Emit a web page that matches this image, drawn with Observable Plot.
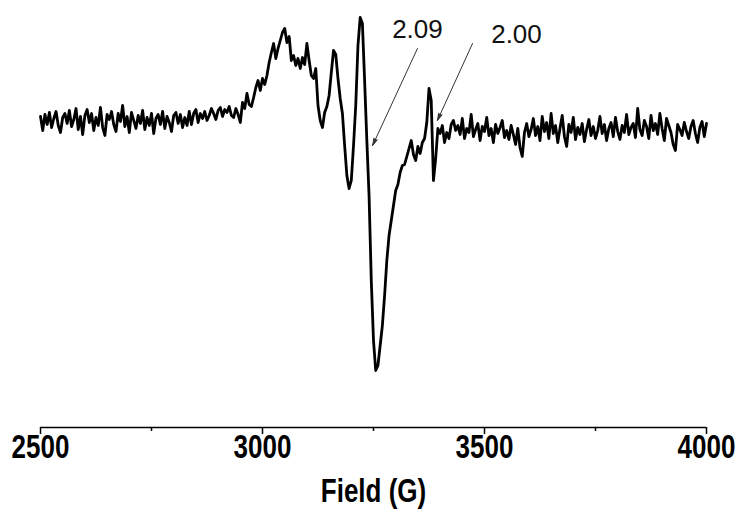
<!DOCTYPE html>
<html>
<head>
<meta charset="utf-8">
<script src="https://cdn.jsdelivr.net/npm/d3@7"></script>
<script src="https://cdn.jsdelivr.net/npm/@observablehq/plot@0.6"></script>
<style>
  html, body { margin: 0; padding: 0; background: #fff; }
  #chart { width: 739px; height: 517px; }
</style>
</head>
<body>
<div id="chart"></div>
<script>
// EPR spectrum, sampled every 5 G, in three segments (arbitrary intensity units)
const fieldStep = 5;

const leftStart = 2500;   // 2500 .. 2855 G
const leftSignal = [
  4, -10, 6, -4, 8, -7, 2, 9, -5, -12,
  3, 7, -3, 10, -6, 1, 12, -9, 4, -14,
  5, 11, -2, 7, -10, 3, -5, 13, -7, -15,
  6, 1, 9, -4, -11, 7, -1, 15, -6, 4,
  -12, 8, 0, -8, 5, -3, 10, -9, 3, -5,
  7, -13, 2, 6, -4, 9, -8, 4, -2, -11,
  5, 8, -3, 6, -7, 3, -5, 9, -4, 7,
  11, -2
];

const midStart = 2860;    // 2860 .. 3435 G
const midSignal = [
  7, 2, 9, 0, 5, 12, 7, 1, 10, 13,
  4, 11, 8, 14, 5, 3, 12, 6, -2, 18,
  12, 27, 16, 14, 23, 33, 40, 30, 42, 36,
  45, 58, 68, 77, 62, 72, 80, 88, 92, 78,
  84, 60, 65, 55, 62, 52, 63, 56, 77, 60,
  45, 42, 52, 15, 0, -7, 8, 14, 25, 48,
  70, 66, 42, 22, 7, -25, -55, -68, -60, -25,
  15, 75, 103, 97, 40, -20, -75, -160, -220, -250,
  -245, -225, -205, -175, -140, -115, -100, -85, -70, -64,
  -52, -45, -44, -36, -28, -20, -34, -40, -26, -33,
  -22, -18, -2, 32, 20, -60, -38, -8, -13, -5,
  -22, -12, -18, -4, 0, -10
];

const rightStart = 3440;  // 3440 .. 4000 G
const rightSignal = [
  -5, -14, 2, -18, -8, -12, 6, -16, -9, -3,
  -20, -6, -11, 3, -15, -8, -22, -4, -13, -7,
  0, -17, -10, -19, -5, -14, -24, -8, -27, -36,
  -12, -3, -16, -9, 2, -15, -6, -20, 4, -11,
  -2, -18, 7, -13, -5, -22, -8, 5, -16, -26,
  -4, -12, 3, -19, -7, -14, -3, -21, -9, 1,
  -15, -6, -18, -10, 4, -13, -4, -20, -8, -2,
  -16, 3, -11, -19, -5, -12, 6, -14, -7, -3,
  -17, 12, -9, -15, 0, -6, -18, 5, -10, -3,
  -14, 7, -8, -20, 2, -5, -12, -24, -30, -4,
  -9, -15, -2, -11, -18, -6, 0, -13, -22, -7,
  -1, -16, -3
];

const xTicks = [2500, 3000, 3500, 4000];
const xMinorTicks = [2750, 3250, 3750];
const xLabel = "Field (G)";

const annotationText = ["2.09", "2.00"];
const annotationField = [3349, 3572];
const annotationLevel = [83, 78];
const arrowFrom = [[3349, 72], [3473, 77]];
const arrowTo = [[3248, -25], [3394, 0]];

// build table
const spectrum = [];
leftSignal.forEach((v, i) => spectrum.push({field: leftStart + i * fieldStep, intensity: v}));
midSignal.forEach((v, i) => spectrum.push({field: midStart + i * fieldStep, intensity: v}));
rightSignal.forEach((v, i) => spectrum.push({field: rightStart + i * fieldStep, intensity: v}));

const labels = annotationText.map((t, i) => ({text: t, field: annotationField[i], level: annotationLevel[i]}));
const arrows = arrowFrom.map((a, i) => ({x1: a[0], y1: a[1], x2: arrowTo[i][0], y2: arrowTo[i][1]}));

const yMin = -307, yMax = 120;

const chart = Plot.plot({
  width: 739,
  height: 517,
  marginLeft: 40,
  marginRight: 33,
  marginTop: 0,
  marginBottom: 90,
  style: {fontFamily: "'Liberation Sans', Arial, sans-serif", background: "#fff", color: "#000"},
  x: {domain: [2500, 4000]},
  y: {domain: [yMin, yMax], axis: null},
  marks: [
    Plot.ruleY([yMin], {stroke: "#000", strokeWidth: 1.5}),
    Plot.axisX({ticks: xMinorTicks, tickSize: 4, text: null, label: null, stroke: "#000", strokeWidth: 1.5}),
    Plot.axisX({ticks: xTicks, tickSize: 7, tickPadding: 0, tickFormat: d => String(d), label: null,
      fontSize: 26, fontWeight: "bold", fill: "#000", stroke: "#000", strokeWidth: 1.5}),
    Plot.text([xLabel], {frameAnchor: "bottom", dy: 72, fontSize: 26, fontWeight: "bold", fill: "#000"}),
    Plot.line(spectrum, {x: "field", y: "intensity", stroke: "#000", strokeWidth: 2.8, strokeLinejoin: "round"}),
    Plot.arrow(arrows, {x1: "x1", y1: "y1", x2: "x2", y2: "y2", stroke: "#333", fill: "#333", strokeWidth: 1, headLength: 11, headAngle: 30}),
    Plot.text(labels, {x: "field", y: "level", text: "text", lineAnchor: "bottom", fontSize: 26, fill: "#111"})
  ]
});

document.getElementById("chart").appendChild(chart);

// the reference typesetting of the axis texts is vertically stretched
d3.select(chart)
  .selectAll('g[aria-label="x-axis tick label"] text')
  .each(function() {
    const t = this.getAttribute("transform") || "";
    this.setAttribute("transform", t + " scale(1,1.25)");
  });
d3.select(chart)
  .selectAll("text")
  .filter(function() { return this.textContent === xLabel; })
  .each(function() {
    const b = this.getBBox();
    const cy = b.y + b.height / 2;
    const t = this.getAttribute("transform") || "";
    this.setAttribute("transform", `${t} translate(0,${cy}) scale(1,1.25) translate(0,${-cy})`);
  });
</script>
</body>
</html>
